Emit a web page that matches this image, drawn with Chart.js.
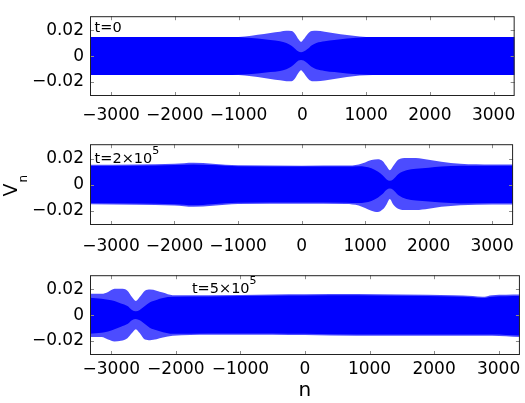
<!DOCTYPE html>
<html>
<head>
<meta charset="utf-8">
<script src="https://cdn.jsdelivr.net/npm/chart.js@4.4.1/dist/chart.umd.min.js"></script>
<style>
  html, body { margin: 0; padding: 0; background: #fff; }
  #wrap { position: relative; width: 525px; height: 403px; overflow: hidden; }
  #wrap canvas { position: absolute; left: 0; }
</style>
</head>
<body>
<div id="wrap">
  <canvas id="p1" width="525" height="130" style="top:0px;width:525px;height:130px"></canvas>
  <canvas id="p2" width="525" height="130" style="top:128px;width:525px;height:130px"></canvas>
  <canvas id="p3" width="525" height="144" style="top:259px;width:525px;height:144px"></canvas>
</div>
<script>
const xTicks = [-3000, -2000, -1000, 0, 1000, 2000, 3000];
const yTicks = [-0.02, 0, 0.02];
const nMin = -3330, nMax = 3330;
const vMin = -0.031, vMax = 0.031;

// envelope of V_n: outer = tips of the oscillations,
// core = part that looks solid blue

// t = 0
const n1 = [-3330, -1100, -900, -700, -500, -350, -250, -170, -110, -60, -20, 20, 80, 150, 220, 350, 500, 700, 900, 1100, 3330];
const top1 = [0.0148, 0.0148, 0.0152, 0.0165, 0.018, 0.019, 0.0196, 0.0195, 0.017, 0.013, 0.011, 0.013, 0.017, 0.0195, 0.0196, 0.019, 0.0178, 0.0163, 0.0152, 0.0148, 0.0148];
const bot1 = [-0.0146, -0.0146, -0.015, -0.0163, -0.0178, -0.0188, -0.0195, -0.0195, -0.017, -0.013, -0.011, -0.013, -0.017, -0.0195, -0.0196, -0.019, -0.0178, -0.0162, -0.015, -0.0146, -0.0146];
const coreTop1 = [0.0148, 0.0148, 0.0145, 0.0137, 0.0125, 0.0115, 0.0102, 0.008, 0.0055, 0.0035, 0.003, 0.0035, 0.0055, 0.0085, 0.0102, 0.0115, 0.0125, 0.0137, 0.0145, 0.0148, 0.0148];
const coreBot1 = [-0.0146, -0.0146, -0.0143, -0.0135, -0.0124, -0.0115, -0.0102, -0.008, -0.0055, -0.0035, -0.003, -0.0035, -0.0055, -0.0085, -0.0102, -0.0115, -0.0124, -0.0135, -0.0143, -0.0146, -0.0146];

// t = 2x10^5
const n2 = [-3330, -2600, -2000, -1700, -1400, -1000, 0, 700, 900, 1000, 1100, 1200, 1280, 1340, 1390, 1440, 1520, 1650, 1800, 2000, 2200, 2500, 3000, 3330];
const top2 = [0.0153, 0.0155, 0.016, 0.0167, 0.016, 0.0148, 0.0145, 0.0146, 0.0155, 0.017, 0.0188, 0.0195, 0.018, 0.014, 0.011, 0.014, 0.019, 0.0205, 0.0205, 0.019, 0.0175, 0.016, 0.0155, 0.0155];
const bot2 = [-0.015, -0.0155, -0.016, -0.017, -0.0162, -0.0148, -0.0146, -0.0148, -0.016, -0.018, -0.02, -0.021, -0.019, -0.015, -0.011, -0.015, -0.0185, -0.0195, -0.0195, -0.0185, -0.017, -0.0158, -0.0152, -0.0152];
const coreTop2 = [0.0143, 0.0145, 0.015, 0.0155, 0.015, 0.014, 0.0138, 0.0138, 0.014, 0.0137, 0.0125, 0.01, 0.007, 0.004, 0.003, 0.004, 0.008, 0.011, 0.0122, 0.013, 0.0138, 0.0145, 0.0145, 0.0145];
const coreBot2 = [-0.0142, -0.0145, -0.015, -0.0158, -0.015, -0.014, -0.0138, -0.014, -0.0142, -0.0137, -0.0125, -0.01, -0.007, -0.004, -0.003, -0.004, -0.008, -0.011, -0.0122, -0.013, -0.0138, -0.0145, -0.0142, -0.0142];

// t = 5x10^5
const n3 = [-3330, -3150, -3050, -2950, -2850, -2750, -2680, -2620, -2560, -2480, -2400, -2300, -2200, -2050, -1500, -500, 0, 800, 1500, 2300, 2600, 2750, 2900, 3330];
const top3 = [0.0165, 0.0165, 0.018, 0.0205, 0.0205, 0.019, 0.014, 0.011, 0.014, 0.019, 0.0198, 0.019, 0.0175, 0.0155, 0.0155, 0.016, 0.0162, 0.0164, 0.016, 0.0155, 0.0148, 0.0142, 0.0155, 0.016];
const bot3 = [-0.017, -0.017, -0.019, -0.0205, -0.02, -0.018, -0.014, -0.011, -0.014, -0.019, -0.0195, -0.0188, -0.0175, -0.016, -0.0152, -0.0152, -0.0155, -0.016, -0.016, -0.016, -0.016, -0.016, -0.016, -0.017];
const coreTop3 = [0.0135, 0.0128, 0.012, 0.011, 0.009, 0.007, 0.004, 0.003, 0.004, 0.007, 0.01, 0.0118, 0.0133, 0.0142, 0.0145, 0.015, 0.0152, 0.0154, 0.015, 0.0145, 0.0138, 0.0132, 0.0143, 0.0148];
const coreBot3 = [-0.0145, -0.0138, -0.0128, -0.011, -0.009, -0.007, -0.004, -0.003, -0.004, -0.007, -0.01, -0.0118, -0.0133, -0.0145, -0.0142, -0.0142, -0.0145, -0.015, -0.015, -0.015, -0.015, -0.015, -0.015, -0.0158];

const BLUE = "#0000ff";
const BLUE_TIPS = "rgba(0, 0, 255, 0.7)";
const FONT = "'DejaVu Sans', sans-serif";
const MINUS = "\u2212";

Chart.defaults.font.family = FONT;
Chart.defaults.font.size = 17;
Chart.defaults.color = "#000";

function points(ns, vs) {
  return ns.map((n, i) => ({ x: n, y: vs[i] }));
}

function band(ns, upper, lower, color) {
  const common = {
    pointRadius: 0,
    borderWidth: 0,
    cubicInterpolationMode: "monotone",
  };
  return [
    { ...common, data: points(ns, upper), backgroundColor: color, fill: "+1" },
    { ...common, data: points(ns, lower), backgroundColor: color, fill: false },
  ];
}

// MATLAB style box with inward ticks on all four sides
const boxPlugin = {
  id: "box",
  afterDatasetsDraw(chart) {
    const { ctx, chartArea: a, scales } = chart;
    ctx.save();
    ctx.strokeStyle = "#8a8a8a";
    ctx.lineWidth = 1;
    ctx.beginPath();
    scales.x.ticks.forEach((t) => {
      const px = Math.round(scales.x.getPixelForValue(t.value)) + 0.5;
      ctx.moveTo(px, a.top);
      ctx.lineTo(px, a.top + 4);
      ctx.moveTo(px, a.bottom);
      ctx.lineTo(px, a.bottom - 4);
    });
    scales.y.ticks.forEach((t) => {
      const py = Math.round(scales.y.getPixelForValue(t.value)) + 0.5;
      ctx.moveTo(a.left, py);
      ctx.lineTo(a.left + 4, py);
      ctx.moveTo(a.right, py);
      ctx.lineTo(a.right - 4, py);
    });
    ctx.stroke();
    ctx.strokeStyle = "#222";
    ctx.strokeRect(a.left + 0.5, a.top + 0.5, a.right - a.left - 1, a.bottom - a.top - 1);
    ctx.restore();
  },
};

// text inside the axes, e.g. t=2x10^5 (placed at a data position)
const notePlugin = {
  id: "note",
  afterDraw(chart, args, opts) {
    if (!opts.parts) return;
    const { ctx, scales } = chart;
    let x = scales.x.getPixelForValue(opts.n);
    const y = scales.y.getPixelForValue(opts.v);
    ctx.save();
    ctx.fillStyle = "#000";
    ctx.textBaseline = "middle";
    ctx.textAlign = "left";
    opts.parts.forEach((p) => {
      ctx.font = `${p.size}px ${FONT}`;
      ctx.fillText(p.text, x, y - (p.rise || 0));
      x += ctx.measureText(p.text).width;
    });
    ctx.restore();
  },
};

// rotated y label V_n (only on the middle panel)
const yLabelPlugin = {
  id: "ylabel",
  afterDraw(chart, args, opts) {
    if (!opts.show) return;
    const { ctx, chartArea: a } = chart;
    ctx.save();
    ctx.fillStyle = "#000";
    ctx.translate(17, (a.top + a.bottom) / 2 + 12);
    ctx.rotate(-Math.PI / 2);
    ctx.textBaseline = "alphabetic";
    ctx.font = `19px ${FONT}`;
    ctx.fillText("V", 0, 0);
    ctx.font = `12px ${FONT}`;
    ctx.fillText("n", 14, 10);
    ctx.restore();
  },
};

function makePanel(id, series, opts) {
  const [ns, top, bot, coreTop, coreBot] = series;
  return new Chart(document.getElementById(id), {
    type: "line",
    data: {
      datasets: [
        ...band(ns, top, bot, BLUE_TIPS),
        ...band(ns, coreTop, coreBot, BLUE),
      ],
    },
    options: {
      responsive: false,
      animation: false,
      layout: { padding: { top: opts.padTop, right: 5, left: 0, bottom: 0 } },
      plugins: {
        legend: { display: false },
        tooltip: { enabled: false },
        note: opts.note || {},
        ylabel: { show: !!opts.ylabel },
      },
      scales: {
        x: {
          type: "linear",
          min: nMin,
          max: nMax,
          grid: { display: false, drawTicks: false },
          border: { display: false },
          afterBuildTicks: (scale) => {
            scale.ticks = xTicks.map((v) => ({ value: v }));
          },
          afterFit: (scale) => {
            scale.height = opts.xHeight;
          },
          ticks: {
            padding: opts.tickPad,
            maxRotation: 0,
            autoSkip: false,
            callback: (v) => (v < 0 ? MINUS + Math.abs(v) : String(v)),
          },
          title: {
            display: !!opts.xlabel,
            text: "n",
            font: { size: 20 },
            padding: { top: 0, bottom: 0 },
          },
        },
        y: {
          min: vMin,
          max: vMax,
          grid: { display: false, drawTicks: false },
          border: { display: false },
          afterBuildTicks: (scale) => {
            scale.ticks = yTicks.map((v) => ({ value: v }));
          },
          afterFit: (scale) => {
            scale.width = 90;
          },
          ticks: {
            padding: 6,
            callback: (v) =>
              v === 0 ? "0" : (v < 0 ? MINUS : "") + Math.abs(v).toFixed(2),
          },
        },
      },
    },
    plugins: [boxPlugin, notePlugin, yLabelPlugin],
  });
}

makePanel("p1", [n1, top1, bot1, coreTop1, coreBot1], {
  padTop: 3,
  xHeight: 34,
  tickPad: 9.5,
  note: { n: -3258, v: 0.0213, parts: [{ text: "t=0", size: 14.5 }] },
});

makePanel("p2", [n2, top2, bot2, coreTop2, coreBot2], {
  padTop: 4,
  xHeight: 33,
  tickPad: 11,
  ylabel: true,
  note: {
    n: -3258,
    v: 0.0196,
    parts: [
      { text: "t=2\u00d710", size: 14.5 },
      { text: "5", size: 11, rise: 8 },
    ],
  },
});

makePanel("p3", [n3, top3, bot3, coreTop3, coreBot3], {
  padTop: 3,
  xHeight: 48,
  tickPad: 4.5,
  xlabel: true,
  note: {
    n: -1751,
    v: 0.02,
    parts: [
      { text: "t=5\u00d710", size: 14.5 },
      { text: "5", size: 11, rise: 8 },
    ],
  },
});
</script>
</body>
</html>
